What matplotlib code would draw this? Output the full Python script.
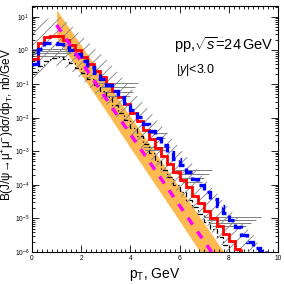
import numpy as np
import matplotlib
matplotlib.use("Agg")
import matplotlib.pyplot as plt
from matplotlib.ticker import MultipleLocator, LogLocator, NullFormatter

plt.rcParams['font.family'] = ['Liberation Sans', 'DejaVu Sans']
plt.rcParams['mathtext.fontset'] = 'custom'
plt.rcParams['mathtext.rm'] = 'Liberation Sans'
plt.rcParams['mathtext.it'] = 'Liberation Sans:italic'
plt.rcParams['mathtext.bf'] = 'Liberation Sans:bold'
plt.rcParams['hatch.linewidth'] = 0.6

# ---------------- data (log10 of dsigma/dpT) ----------------
bin_w = 0.25
red_log = [-0.25, 0.22, 0.40, 0.42, 0.42, 0.30, 0.15, 0.00,
           -0.20, -0.40, -0.60, -0.80, -1.00, -1.20, -1.40, -1.60,
           -1.85, -2.10, -2.37, -2.63, -2.90, -3.15, -3.38, -3.62,
           -3.85, -4.08, -4.32, -4.55, -4.78, -5.00, -5.22, -5.45,
           -5.68, -5.90]
blue_log = [-0.40, 0.05, 0.22, 0.22, 0.20, 0.10, 0.00, -0.12,
            -0.30, -0.48, -0.66, -0.84, -1.02, -1.20, -1.38, -1.56,
            -1.77, -1.98, -2.19, -2.40, -2.61, -2.82, -3.02, -3.22,
            -3.42, -3.62, -3.82, -4.02, -4.22, -4.43, -4.64, -4.85,
            -5.06, -5.27, -5.48, -5.69, -5.88, -5.98]
black_log = [-0.65, -0.45, -0.32, -0.22, -0.20, -0.25, -0.38, -0.52,
             -0.68, -0.85, -1.02, -1.20, -1.40, -1.62, -1.85, -2.08,
             -2.32, -2.56, -2.80, -3.05, -3.30, -3.55, -3.78, -4.00,
             -4.22, -4.44, -4.66, -4.88, -5.10, -5.32, -5.55, -5.80,
             -6.10]

# orange theory band
band_pt = [1.0, 2.0, 3.0, 4.0, 5.0, 6.0, 6.83, 7.8]
band_hi = [1.21, 0.15, -0.91, -1.97, -3.03, -4.09, -4.97, -6.0]
band_lo = [0.375, -0.72, -1.80, -2.90, -3.99, -5.08, -6.0, -7.0]

# magenta dashed curve
mag_pt = [1.0, 3.3, 7.3]
mag_log = [0.76, -1.75, -6.0]

# hatched band
hatch_pt = [0.0, 0.5, 1.0, 1.5, 2.0, 3.0, 4.0, 5.0, 6.0, 7.0, 8.0, 9.0, 9.4]
hatch_hi = [0.5, 0.9, 1.05, 0.8, 0.45, -0.25, -1.1, -2.0, -2.9, -3.8, -4.7, -5.5, -6.0]
hatch_lo = [-0.9, -0.6, -0.45, -0.55, -0.85, -1.6, -2.5, -3.4, -4.3, -5.1, -6.1, -7.0, -7.0]

# gray horizontal error bars (pT start, pT end, log10 value)
err_x0 = [0.0, 0.0, 0.0, 0.1, 2.6, 2.8, 2.9, 3.0, 4.8, 4.9, 4.5, 4.6,
          5.8, 5.9, 6.0, 6.1, 7.0, 7.1, 7.2, 7.3]
err_x1 = [1.8, 1.7, 1.6, 1.4, 4.3, 4.2, 4.1, 4.0, 5.5, 5.4, 5.6, 5.5,
          7.3, 7.2, 7.0, 6.9, 9.3, 9.1, 8.9, 8.7]
err_log = [0.05, -0.01, -0.07, -0.16, -0.98, -1.08, -1.23, -1.35,
           -2.45, -2.62, -2.87, -2.96, -3.55, -3.68, -3.80, -3.92,
           -4.95, -5.05, -5.13, -5.22]

# ---------------- figure ----------------
fig = plt.figure(figsize=(2.84, 2.84), dpi=100)
ax = fig.add_axes([32/284, 32/284, 246/284, 246/284])

# orange band
ax.fill_between(band_pt, 10**np.array(band_hi), 10**np.array(band_lo),
                color='#FDBA50', linewidth=0, zorder=1)

# hatched band
ax.fill_between(hatch_pt, 10**np.array(hatch_hi), 10**np.array(hatch_lo),
                facecolor='none', edgecolor='#808080', hatch='///',
                linewidth=0, zorder=2)

# gray error lines
ax.hlines(10**np.array(err_log), err_x0, err_x1, color='#808080',
          linewidth=0.7, zorder=3)

# histograms
def hist(vals_log, color, lw, ls, z):
    vals = 10**np.array(vals_log)
    edges = np.arange(len(vals) + 1) * bin_w
    ax.stairs(vals, edges, baseline=None, color=color, linewidth=lw,
              linestyle=ls, zorder=z)
    ax.vlines(edges[-1], 1e-8, vals[-1], color=color, linewidth=lw,
              linestyle=ls, zorder=z)

hist(black_log, 'black', 0.9, (0, (4, 2, 1, 2)), 4)
hist(red_log, '#FF0000', 2.0, '-', 5)
hist(blue_log, '#0000FF', 2.4, (0, (3, 1.5)), 6)

# magenta dashed
ax.plot(mag_pt, 10**np.array(mag_log), color='#FF00FF', linewidth=2.4,
        linestyle=(0, (2.5, 2.5)), zorder=7)

ax.set_yscale('log')
ax.set_xlim(0, 10)
ax.set_ylim(1e-6, 21)

ax.xaxis.set_major_locator(MultipleLocator(2))
ax.xaxis.set_minor_locator(MultipleLocator(0.2))
ax.yaxis.set_major_locator(LogLocator(base=10, numticks=20))
ax.yaxis.set_minor_locator(LogLocator(base=10, subs=np.arange(2, 10), numticks=20))
ax.yaxis.set_minor_formatter(NullFormatter())

ax.tick_params(which='both', direction='in', top=True, right=True,
               labelsize=4.8, width=0.6, pad=2)
ax.tick_params(which='major', length=5)
ax.tick_params(which='minor', length=2.5)
for s in ax.spines.values():
    s.set_linewidth(0.8)

ax.set_xlabel(r'p$_{\mathrm{T}}$, GeV', fontsize=10, labelpad=3)
ax.set_ylabel('B(J/ψ→μ$^{+}$μ$^{-}$)dσ/dp$_{\\mathrm{T}}$, nb/GeV',
              fontsize=8.5)
ax.yaxis.set_label_coords(-0.066, 0.52)

ax.text(0.577, 0.841, r'pp,$\sqrt{s}$=24$\,$GeV', transform=ax.transAxes,
        fontsize=10.5, va='center', ha='left')
ax.text(0.585, 0.74, r'$|y|$<3.0', transform=ax.transAxes,
        fontsize=9, va='center', ha='left')

fig.savefig('out.png', dpi=100)
